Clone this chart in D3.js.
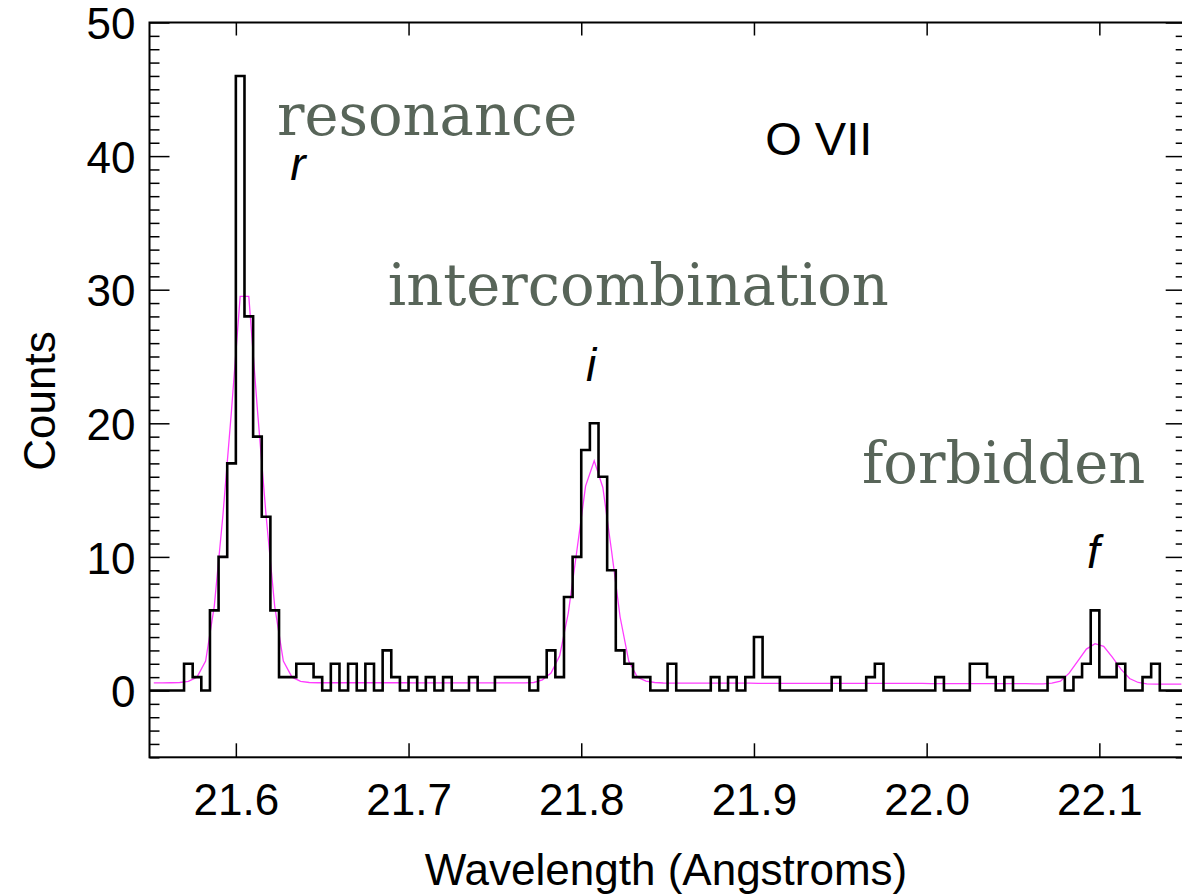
<!DOCTYPE html>
<html>
<head>
<meta charset="utf-8">
<script src="https://cdn.jsdelivr.net/npm/d3@7"></script>
<style>
  body { margin: 0; background: #fff; }
  .tick line { stroke: #000; stroke-width: 1.5; }
  .tick text { font-family: "Liberation Sans", Arial, sans-serif; font-size: 44px; fill: #000; }
</style>
</head>
<body>
<div id="chart"></div>
<script>
// ---- data ----

// histogram bins: 0.005 A wide, starting at 21.55 A
const binStart = 21.55
const binWidth = 0.005

// observed counts per bin (black histogram)
const counts = [
  0, 0, 0, 0, 2, 1, 0, 6, 10, 17,
  46, 28, 19, 13, 6, 1, 1, 2, 2, 1,
  0, 2, 0, 2, 0, 2, 0, 3, 1, 0,
  1, 0, 1, 0, 1, 0, 0, 1, 0, 0,
  1, 1, 1, 1, 0, 1, 3, 1, 7, 10,
  18, 20, 16, 9, 3, 2, 1, 1, 0, 0,
  2, 0, 0, 0, 0, 1, 0, 1, 0, 1,
  4, 1, 1, 0, 0, 0, 0, 0, 0, 1,
  0, 0, 0, 1, 2, 0, 0, 0, 0, 0,
  0, 1, 0, 0, 0, 2, 2, 1, 0, 1,
  0, 0, 0, 0, 1, 1, 0, 1, 2, 6,
  1, 1, 2, 0, 0, 1, 2, 0, 0, 0
]

// fitted model at bin centres (magenta line)
const model = [
  0.57, 0.57, 0.58, 0.6, 0.68, 1.0, 2.2, 6.3, 13.1, 21.0,
  29.5, 29.5, 21.0, 13.1, 6.3, 2.2, 1.0, 0.68, 0.6, 0.58,
  0.58, 0.58, 0.58, 0.58, 0.58, 0.58, 0.58, 0.58, 0.58, 0.58,
  0.57, 0.57, 0.57, 0.57, 0.57, 0.57, 0.57, 0.57, 0.57, 0.57,
  0.57, 0.57, 0.57, 0.57, 0.6, 0.8, 1.3, 2.6, 5.8, 10.5,
  15.3, 17.2, 15.2, 10.5, 5.5, 2.2, 1.0, 0.7, 0.6, 0.56,
  0.55, 0.55, 0.55, 0.55, 0.55, 0.55, 0.55, 0.55, 0.55, 0.55,
  0.54, 0.54, 0.54, 0.54, 0.54, 0.54, 0.54, 0.54, 0.54, 0.54,
  0.53, 0.53, 0.53, 0.53, 0.53, 0.53, 0.53, 0.53, 0.53, 0.53,
  0.52, 0.52, 0.52, 0.52, 0.52, 0.52, 0.52, 0.52, 0.52, 0.52,
  0.51, 0.51, 0.5, 0.5, 0.55, 0.7, 1.3, 2.2, 3.1, 3.5,
  3.3, 2.5, 1.6, 0.9, 0.6, 0.5, 0.48, 0.48, 0.47, 0.47
]

// axis ticks
const xMajor = [21.6, 21.7, 21.8, 21.9, 22.0, 22.1]
const yMajor = [0, 10, 20, 30, 40, 50]

// text annotations, placed in data units
const lineLabels = [
  { text: 'r', wl: 21.636, c: 38.2 },
  { text: 'i', wl: 21.8057, c: 23.2 },
  { text: 'f', wl: 22.0965, c: 9.2 }
]
const lineNames = [
  { text: 'resonance', wl: 21.6238, c: 41.6 },
  { text: 'intercombination', wl: 21.688, c: 28.85 },
  { text: 'forbidden', wl: 21.9626, c: 15.5 }
]
const ionLabel = { text: 'O VII', wl: 21.9065, c: 40.1 }

;(() => {
  // ---- svg setup ----
  const svgWidth = 1182
  const svgHeight = 894

  const svg = d3.select('#chart')
    .append('svg')
    .attr('width', svgWidth)
    .attr('height', svgHeight)

  // scales
  const x = d3.scaleLinear().domain([21.55, 22.15]).range([149.5, 1185.7])
  const y = d3.scaleLinear().domain([-5, 50]).range([757.3, 22.5])

  const xMinor = d3.range(56, 216).map(d => d / 100).filter(d => !xMajor.some(m => Math.abs(m - d) < 1e-9))
  const yMinor = d3.range(-5, 51).filter(d => d % 10 !== 0)

  const plotTop = y.range()[1], plotBottom = y.range()[0]
  const plotLeft = x.range()[0], plotRight = x.range()[1]

  // ---- axes (ticks point inward) ----
  function addAxis(axis, tx, ty) {
    const g = svg.append('g')
      .attr('transform', `translate(${tx},${ty})`)
      .call(axis)
    g.select('.domain').remove()
    return g
  }

  addAxis(d3.axisBottom(x).tickValues(xMinor).tickSize(-7).tickFormat(''), 0, plotBottom)
  addAxis(d3.axisBottom(x).tickValues(xMajor).tickSize(-14).tickPadding(26).tickFormat(d3.format('.1f')), 0, plotBottom)
  addAxis(d3.axisTop(x).tickValues(xMinor).tickSize(-7).tickFormat(''), 0, plotTop)
  addAxis(d3.axisTop(x).tickValues(xMajor).tickSize(-13).tickFormat(''), 0, plotTop)

  addAxis(d3.axisLeft(y).tickValues(yMinor).tickSize(-10).tickFormat(''), plotLeft, 0)
  addAxis(d3.axisLeft(y).tickValues(yMajor).tickSize(-20).tickPadding(14).tickFormat(d3.format('d')), plotLeft, 0)
    .selectAll('text').attr('dy', '0.37em')
  addAxis(d3.axisRight(y).tickValues(yMinor).tickSize(-10).tickFormat(''), plotRight, 0)
  addAxis(d3.axisRight(y).tickValues(yMajor).tickSize(-20).tickFormat(''), plotRight, 0)

  // frame
  svg.append('rect')
    .attr('x', plotLeft).attr('y', plotTop)
    .attr('width', plotRight - plotLeft).attr('height', plotBottom - plotTop)
    .attr('fill', 'none')
    .attr('stroke', '#000')
    .attr('stroke-width', 2)

  // ---- model (magenta) ----
  const modelPts = model.map((v, i) => [binStart + binWidth * (i + 0.5), v])
  svg.append('path')
    .datum(modelPts)
    .attr('d', d3.line().x(d => x(d[0])).y(d => y(d[1])))
    .attr('fill', 'none')
    .attr('stroke', '#ff3cff')
    .attr('stroke-width', 1.3)

  // ---- histogram ----
  const histPts = counts.map((v, i) => [binStart + binWidth * i, v])
  histPts.push([binStart + binWidth * counts.length, counts[counts.length - 1]])
  svg.append('path')
    .datum(histPts)
    .attr('d', d3.line().x(d => x(d[0])).y(d => y(d[1])).curve(d3.curveStepAfter))
    .attr('fill', 'none')
    .attr('stroke', '#000')
    .attr('stroke-width', 2.6)

  // ---- labels ----
  svg.append('text')
    .attr('x', 666).attr('y', 885)
    .attr('text-anchor', 'middle')
    .style('font-family', '"Liberation Sans", Arial, sans-serif')
    .style('font-size', '44px')
    .text('Wavelength (Angstroms)')

  svg.append('text')
    .attr('transform', 'translate(55,401) rotate(-90)')
    .attr('text-anchor', 'middle')
    .style('font-family', '"Liberation Sans", Arial, sans-serif')
    .style('font-size', '44px')
    .text('Counts')

  svg.selectAll('.linelabel')
    .data(lineLabels)
    .join('text')
    .attr('class', 'linelabel')
    .attr('x', d => x(d.wl)).attr('y', d => y(d.c))
    .attr('text-anchor', 'middle')
    .style('font-family', '"Liberation Sans", Arial, sans-serif')
    .style('font-style', 'italic')
    .style('font-size', '46px')
    .text(d => d.text)

  svg.selectAll('.linename')
    .data(lineNames)
    .join('text')
    .attr('class', 'linename')
    .attr('x', d => x(d.wl)).attr('y', d => y(d.c))
    .style('font-family', '"DejaVu Serif", serif')
    .style('font-size', '57.5px')
    .style('fill', '#586559')
    .text(d => d.text)

  svg.append('text')
    .attr('x', x(ionLabel.wl)).attr('y', y(ionLabel.c))
    .style('font-family', '"Liberation Sans", Arial, sans-serif')
    .style('font-size', '47px')
    .text(ionLabel.text)
})()
</script>
</body>
</html>
